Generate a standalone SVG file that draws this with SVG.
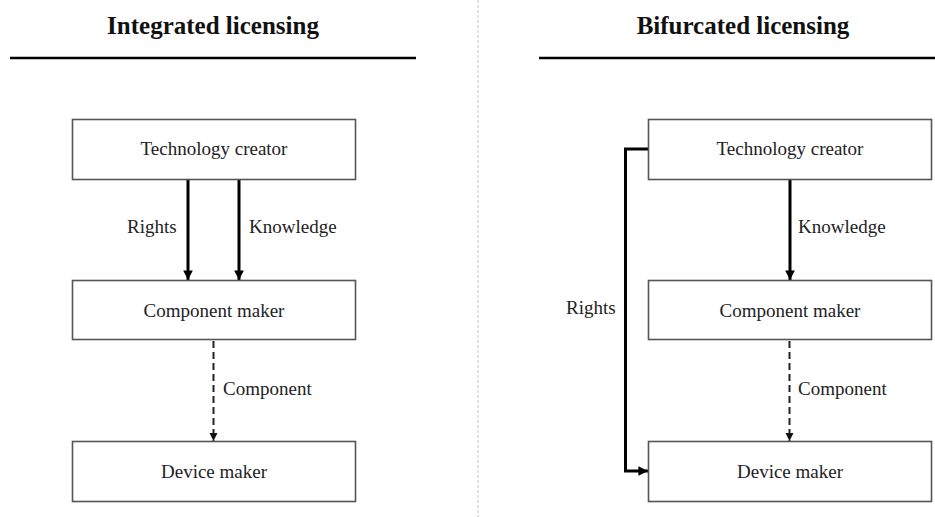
<svg xmlns="http://www.w3.org/2000/svg" width="935" height="517" viewBox="0 0 935 517">
  <defs>
    <marker id="headBold" viewBox="0 0 10 10" refX="10" refY="5" markerWidth="3.2" markerHeight="3.2" markerUnits="strokeWidth" orient="auto">
      <path d="M0,0 L10,5 L0,10 Z" fill="#000"/>
    </marker>
    <marker id="headThin" viewBox="0 0 10 10" refX="10" refY="5" markerWidth="4.2" markerHeight="4.2" markerUnits="strokeWidth" orient="auto">
      <path d="M0,0 L10,5 L0,10 Z" fill="#111"/>
    </marker>
    <style>
      .title { font-family: "Liberation Serif", "Times New Roman", serif; font-weight: bold; font-size: 25px; fill: #111; text-anchor: middle; }
      .rule { stroke: #000; stroke-width: 2.6; }
      .box rect { fill: #fff; stroke: #555; stroke-width: 1.6; }
      .box text, .lbl { font-family: "Liberation Serif", "Times New Roman", serif; font-size: 19px; fill: #222; }
      .box text { text-anchor: middle; }
      .solid { fill: none; stroke: #000; stroke-width: 3; marker-end: url(#headBold); }
      .dashed { fill: none; stroke: #222; stroke-width: 2; stroke-dasharray: 7 4; marker-end: url(#headThin); }
      .sep { stroke: #c4c4c4; stroke-width: 1; stroke-dasharray: 3 2; }
    </style>
  </defs>

  <rect width="935" height="517" fill="#fff"/>

  <!-- panel separator -->
  <line class="sep" x1="478" y1="0" x2="478" y2="517"/>

  <!-- panel headings -->
  <g id="heading-integrated">
    <text class="title" x="213" y="34">Integrated licensing</text>
    <line class="rule" x1="10" y1="58" x2="416" y2="58"/>
  </g>
  <g id="heading-bifurcated">
    <text class="title" x="743" y="34">Bifurcated licensing</text>
    <line class="rule" x1="539" y1="58" x2="935" y2="58"/>
  </g>

  <!-- connectors -->
  <g id="connectors">
    <!-- integrated -->
    <line class="solid" x1="188" y1="179" x2="188" y2="280"/>
    <line class="solid" x1="239" y1="179" x2="239" y2="280"/>
    <line class="dashed" x1="213.5" y1="341" x2="213.5" y2="441"/>
    <text class="lbl" x="127" y="233">Rights</text>
    <text class="lbl" x="249" y="233">Knowledge</text>
    <text class="lbl" x="223" y="395">Component</text>
    <!-- bifurcated -->
    <line class="solid" x1="790" y1="179" x2="790" y2="280"/>
    <line class="dashed" x1="789.5" y1="341" x2="789.5" y2="441"/>
    <path class="solid" d="M648,149 H625.5 V471 H648"/>
    <text class="lbl" x="798" y="233">Knowledge</text>
    <text class="lbl" x="566" y="314">Rights</text>
    <text class="lbl" x="798" y="395">Component</text>
  </g>

  <!-- integrated licensing nodes -->
  <g id="int-creator" class="box">
    <rect x="72.5" y="119.5" width="283" height="60"/>
    <text x="214" y="155">Technology creator</text>
  </g>
  <g id="int-component" class="box">
    <rect x="72.5" y="280.5" width="283" height="59"/>
    <text x="214" y="317">Component maker</text>
  </g>
  <g id="int-device" class="box">
    <rect x="72.5" y="441.5" width="283" height="60"/>
    <text x="214" y="478">Device maker</text>
  </g>

  <!-- bifurcated licensing nodes -->
  <g id="bif-creator" class="box">
    <rect x="648.5" y="119.5" width="283" height="60"/>
    <text x="790" y="155">Technology creator</text>
  </g>
  <g id="bif-component" class="box">
    <rect x="648.5" y="280.5" width="283" height="59"/>
    <text x="790" y="317">Component maker</text>
  </g>
  <g id="bif-device" class="box">
    <rect x="648.5" y="441.5" width="283" height="60"/>
    <text x="790" y="478">Device maker</text>
  </g>
</svg>
